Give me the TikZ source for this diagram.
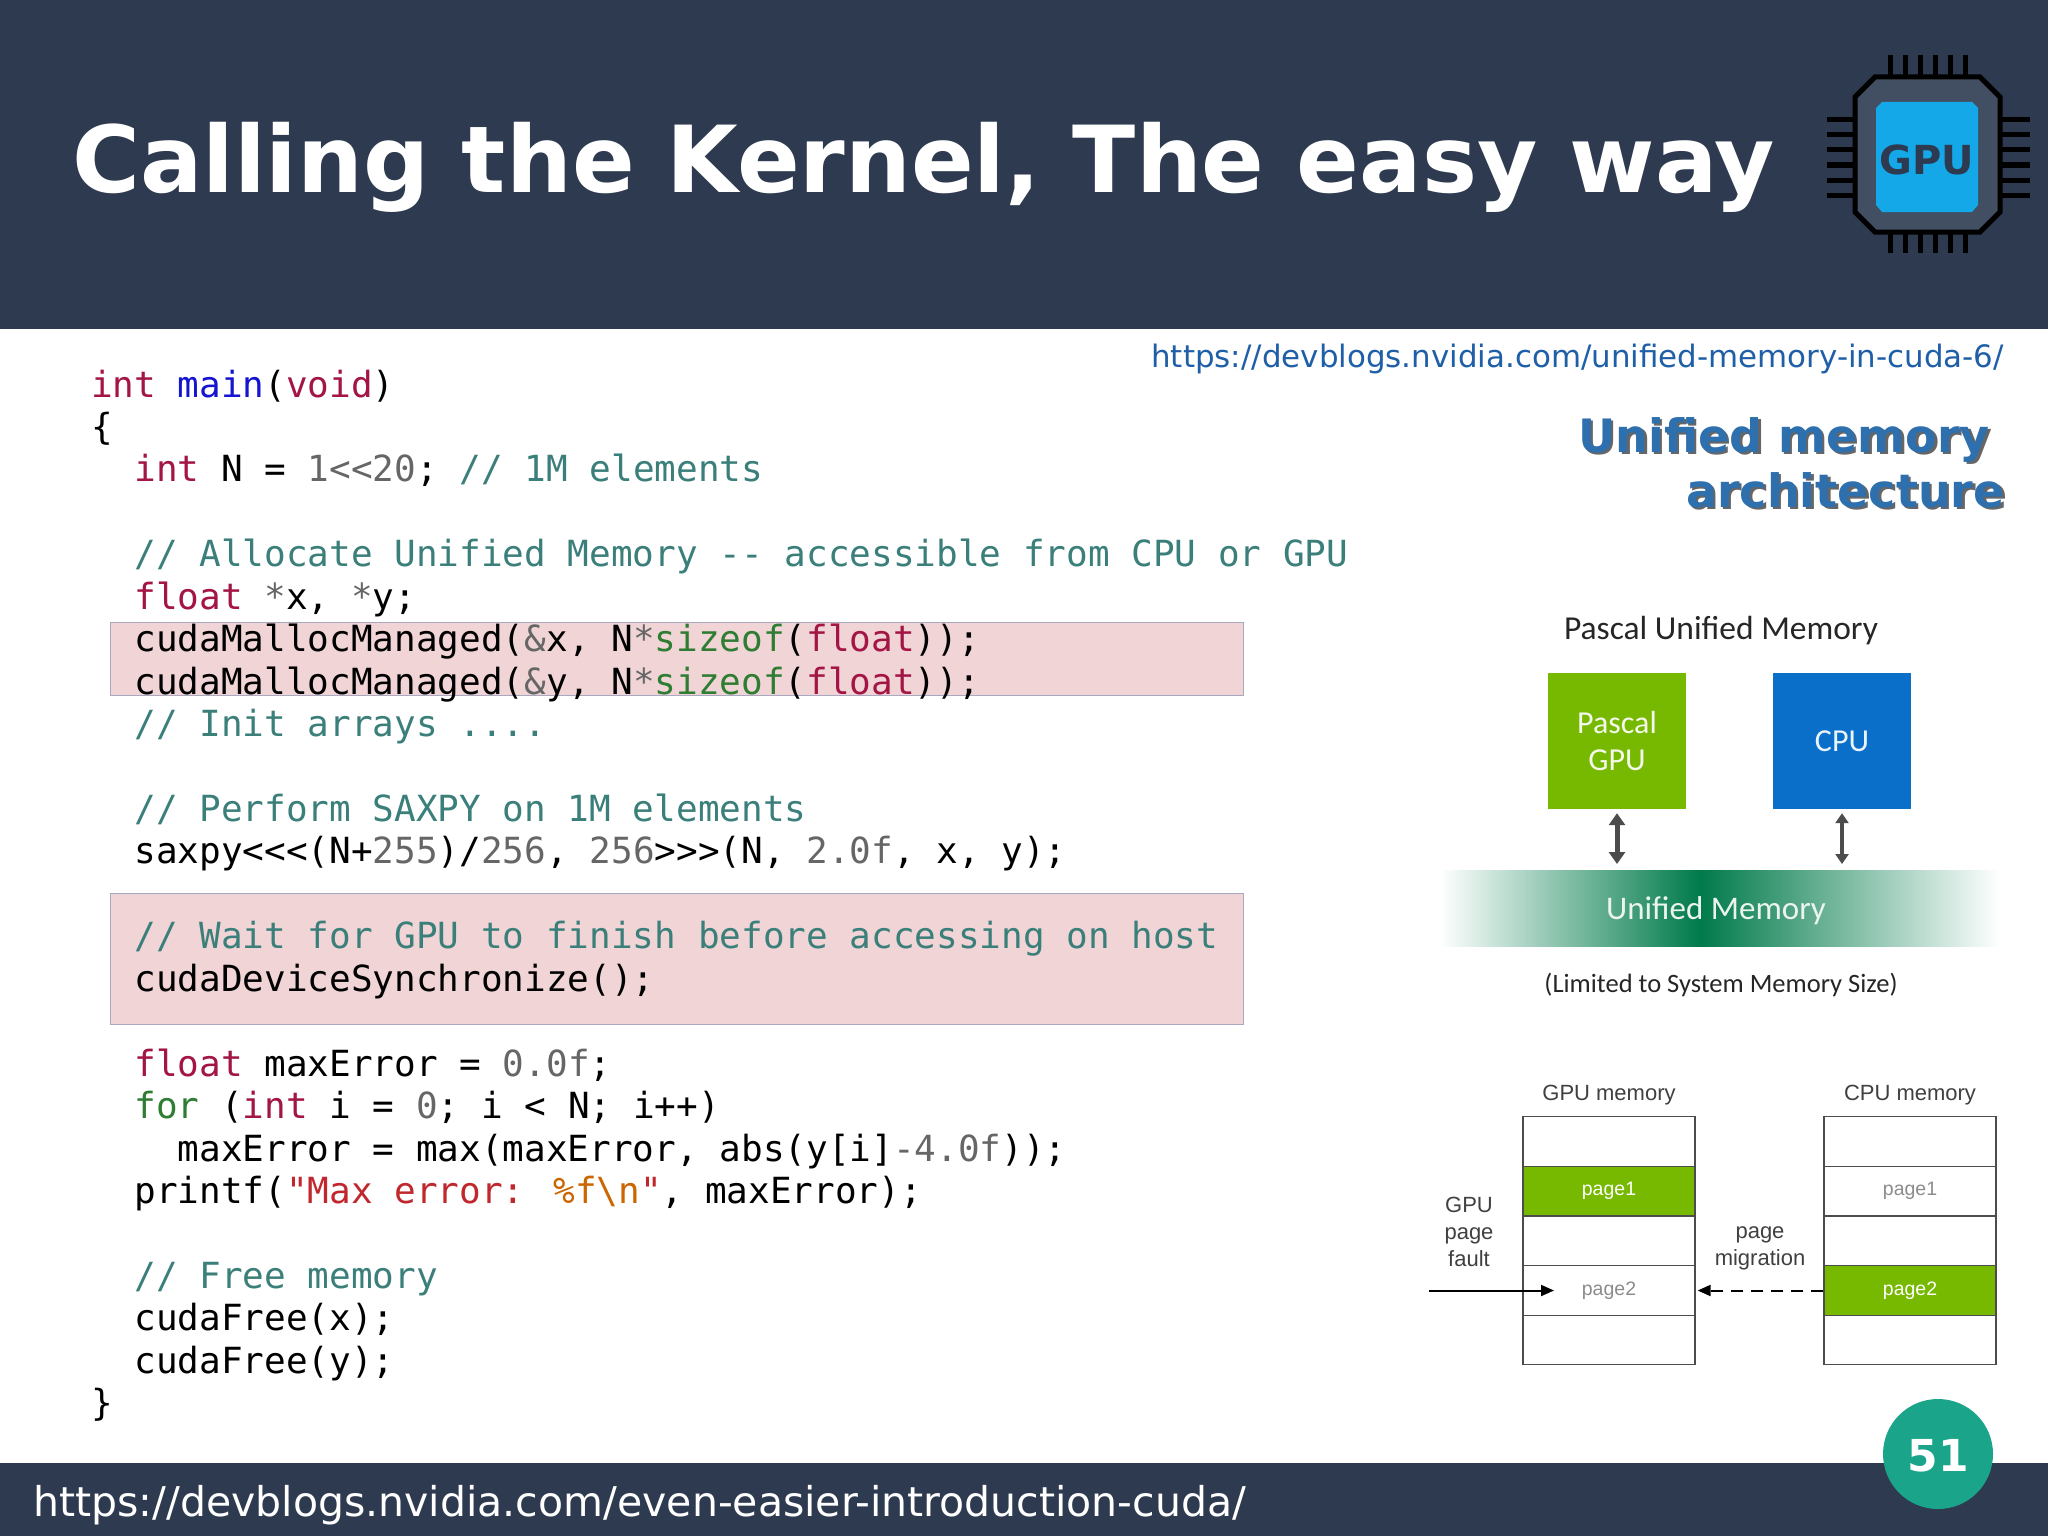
\documentclass[tikz,border=0pt]{standalone}
\usepackage{fontspec}
\setmainfont{DejaVu Sans}
\newfontfamily\codefont{DejaVu Sans Mono}
\newfontfamily\carl{Carlito}
\newfontfamily\arial{Liberation Sans}
\usetikzlibrary{arrows.meta}
\definecolor{hdr}{HTML}{2D3A4F}
\definecolor{kwc}{HTML}{A31545}
\definecolor{fnc}{HTML}{1515D0}
\definecolor{cmc}{HTML}{3B7F7A}
\definecolor{nmc}{HTML}{666666}
\definecolor{szc}{HTML}{2E7D32}
\definecolor{stc}{HTML}{C0282E}
\definecolor{hl}{HTML}{F0D4D6}
\definecolor{hlb}{HTML}{A8A8C0}
\definecolor{nvg}{HTML}{76B900}
\definecolor{cpub}{HTML}{0A6FC8}
\definecolor{umg}{HTML}{007A4A}
\definecolor{teal}{HTML}{1AA58A}
\definecolor{linkb}{HTML}{1F5FA8}
\definecolor{umt}{HTML}{2E6FAD}
\definecolor{cyanchip}{HTML}{14A8E8}
\newcommand{\kw}[1]{\textcolor{kwc}{#1}}
\newcommand{\fnn}[1]{\textcolor{fnc}{#1}}
\newcommand{\cm}[1]{\textcolor{cmc}{#1}}
\newcommand{\nm}[1]{\textcolor{nmc}{#1}}
\newcommand{\sz}[1]{\textcolor{szc}{#1}}
\newcommand{\st}[1]{\textcolor{stc}{#1}}
\newcommand{\ind}[1]{\hspace*{#1\dimexpr 21.67pt\relax}}
\begin{document}
\begin{tikzpicture}[x=1pt,y=-1pt,
  code/.style={anchor=base west,inner sep=0pt,font=\codefont\fontsize{36}{40}\selectfont},
  cell/.style={draw=black!70,line width=1.2pt,minimum width=172pt,minimum height=49.6pt,inner sep=0pt,font=\arial\fontsize{19.5}{20}\selectfont,text=black!45},
  gcell/.style={cell,fill=nvg,text=white},
  lbl/.style={font=\arial\fontsize{22}{27}\selectfont,text=black!75,align=center},
  dbl/.style={{Triangle[width=16pt,length=12pt]}-{Triangle[width=16pt,length=12pt]},line width=5pt,draw=black!70}]
\useasboundingbox (0,0) rectangle (2048,1536);
\fill[white] (0,0) rectangle (2048,1536);
% header
\fill[hdr] (0,0) rectangle (2048,329);
\node[anchor=base west,inner sep=0pt,text=white,font=\fontsize{92.5}{100}\selectfont\bfseries] (title) at (72,193) {Calling the Kernel, The easy way};
% chip icon
\foreach \i in {0,...,5}{
  \draw[black,line width=5pt] (1890+\i*15,55) -- (1890+\i*15,80);
  \draw[black,line width=5pt] (1890+\i*15,228) -- (1890+\i*15,253);
  \draw[black,line width=5pt] (1827,120+\i*15) -- (1858,120+\i*15);
  \draw[black,line width=5pt] (1997,120+\i*15) -- (2030,120+\i*15);
}
\draw[black,line width=5pt,fill=hdr!90!white] (1875,77) -- (1980,77) -- (2000,97) -- (2000,212) -- (1980,232) -- (1875,232) -- (1855,212) -- (1855,97) -- cycle;
\fill[cyanchip] (1882,102) -- (1972,102) -- (1978,108) -- (1978,205) -- (1972,212) -- (1882,212) -- (1876,205) -- (1876,108) -- cycle;
\node[text=hdr,font=\fontsize{40}{40}\selectfont\bfseries] (gpuicon) at (1927,160) {GPU};
% footer
\fill[hdr] (0,1463) rectangle (2048,1536);
\node[anchor=base west,inner sep=0pt,text=white,font=\fontsize{41}{44}\selectfont] (foot) at (33,1516) {https://devblogs.nvidia.com/even-easier-introduction-cuda/};
\fill[teal] (1938,1454) circle (55);
\node[text=white,font=\fontsize{44}{44}\selectfont\bfseries] (pg) at (1938,1456) {51};
% links and heading
\node[anchor=base east,inner sep=0pt,text=linkb,font=\fontsize{30.9}{32}\selectfont] (link) at (2004,367) {https://devblogs.nvidia.com/unified-memory-in-cuda-6/};
\foreach \dx/\c in {2.5/black!60, 0/umt}{
  \node[anchor=base east,inner sep=0pt,text=\c,font=\fontsize{46}{50}\selectfont\bfseries] at (1990+\dx,452+\dx) {Unified memory};
  \node[anchor=base east,inner sep=0pt,text=\c,font=\fontsize{46}{50}\selectfont\bfseries] at (2005+\dx,507+\dx) {architecture};
}
% highlight boxes
\draw[hlb,fill=hl,line width=1pt] (110,622) rectangle (1243,695);
\draw[hlb,fill=hl,line width=1pt] (110,893) rectangle (1243,1024);
% code
\def\L#1#2{\node[code] at (91,{397+#1*42.45}) {#2};}
\L{0}{\kw{int} \fnn{main}(\kw{void})}
\L{1}{\{}
\L{2}{\ind{2}\kw{int} N = \nm{1<{}<20}; \cm{// 1M elements}}
\L{4}{\ind{2}\cm{// Allocate Unified Memory -{}- accessible from CPU or GPU}}
\L{5}{\ind{2}\kw{float} \nm{*}x, \nm{*}y;}
\L{6}{\ind{2}cudaMallocManaged(\nm{\&}x, N\nm{*}\sz{sizeof}(\kw{float}));}
\L{7}{\ind{2}cudaMallocManaged(\nm{\&}y, N\nm{*}\sz{sizeof}(\kw{float}));}
\L{8}{\ind{2}\cm{// Init arrays ....}}
\L{10}{\ind{2}\cm{// Perform SAXPY on 1M elements}}
\L{11}{\ind{2}saxpy<{}<{}<(N+\nm{255})/\nm{256}, \nm{256}>{}>{}>(N, \nm{2.0f}, x, y);}
\L{13}{\ind{2}\cm{// Wait for GPU to finish before accessing on host}}
\L{14}{\ind{2}cudaDeviceSynchronize();}
\L{16}{\ind{2}\kw{float} maxError = \nm{0.0f};}
\L{17}{\ind{2}\sz{for} (\kw{int} i = \nm{0}; i < N; i++)}
\L{18}{\ind{4}maxError = max(maxError, abs(y[i]\nm{-4.0f}));}
\L{19}{\ind{2}printf(\st{"Max error: }\textcolor{orange!80!black}{\%f\textbackslash n}\st{"}, maxError);}
\L{21}{\ind{2}\cm{// Free memory}}
\L{22}{\ind{2}cudaFree(x);}
\L{23}{\ind{2}cudaFree(y);}
\L{24}{\}}
% Pascal unified memory diagram
\node[font=\carl\fontsize{33.5}{34}\selectfont,text=black!85] (pum) at (1721,631) {Pascal Unified Memory};
\node[fill=nvg,minimum width=138pt,minimum height=136pt,inner sep=0pt,align=center,text=white!92!nvg,font=\carl\fontsize{32}{38}\selectfont] (pgpu) at (1617,741) {Pascal\\GPU};
\node[fill=cpub,minimum width=138pt,minimum height=136pt,inner sep=0pt,text=white!92!cpub,font=\carl\fontsize{32}{36}\selectfont] (cpu) at (1842,741) {CPU};
\shade[left color=white,right color=umg] (1440,870) rectangle (1700,946);
\shade[left color=umg,right color=white] (1700,870) rectangle (2000,946);
\node[text=white!92!umg,font=\carl\fontsize{33}{34}\selectfont] (um) at (1716,911) {Unified Memory};
\coordinate (umtop1) at (1617,864);
\coordinate (umtop2) at (1842,864);
\draw[dbl] ([yshift=-4pt]pgpu.south) -- (umtop1);
\draw[dbl,line width=3.5pt,{Triangle[width=13pt,length=10pt]}-{Triangle[width=13pt,length=10pt]}] ([yshift=-4pt]cpu.south) -- (umtop2);
\node[font=\carl\fontsize{26.5}{28}\selectfont,text=black!85] (lim) at (1721,985) {(Limited to System Memory Size)};
% memory tables
\node[lbl] (gml) at (1609,1095) {GPU memory};
\node[lbl] (cml) at (1910,1095) {CPU memory};
\node[cell] (g1) at (1609,1141.5) {};
\node[gcell] (g2) at (1609,1191) {page1};
\node[cell] (g3) at (1609,1241) {};
\node[cell] (g4) at (1609,1290.5) {page2};
\node[cell] (g5) at (1609,1340) {};
\node[cell] (c1) at (1910,1141.5) {};
\node[cell] (c2) at (1910,1191) {page1};
\node[cell] (c3) at (1910,1241) {};
\node[gcell] (c4) at (1910,1290.5) {page2};
\node[cell] (c5) at (1910,1340) {};
\node[lbl] (fault) at (1469,1232) {GPU\\page\\fault};
\node[lbl] (mig) at (1760,1248) {page\\migration};
\coordinate (fstart) at (1429,1290.5);
\draw[line width=2pt,-{Triangle[width=11pt,length=13pt]}] (fstart) -- ([xshift=-55pt]g4.center);
\draw[line width=2pt,dash pattern=on 12pt off 8pt,-{Triangle[width=11pt,length=13pt]}] (c4.west) -- ([xshift=2pt]g4.east);
\end{tikzpicture}
\end{document}
